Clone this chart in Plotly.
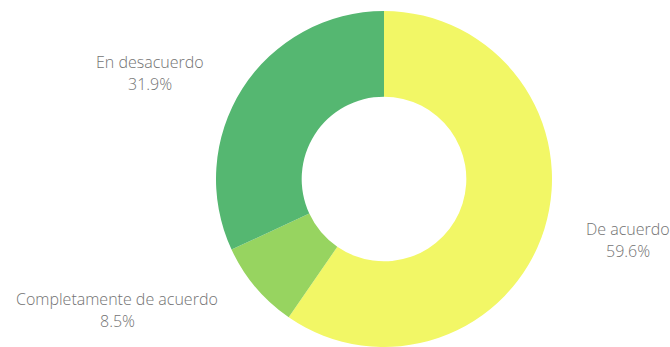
import plotly.graph_objects as go

categories = ["De acuerdo", "Completamente de acuerdo", "En desacuerdo"]
values = [59.6, 8.5, 31.9]
colors = ["#f2f766", "#97d460", "#55b771"]

# label anchor positions in pixels (center x, y of first line) – layout only
label_pos = [(628, 229), (117, 299), (150, 62)]

W, H = 670, 347
cx, cy, r = 384, 179, 168

fig = go.Figure(go.Pie(
    labels=categories,
    values=values,
    marker=dict(colors=colors, line=dict(width=0)),
    hole=0.49,
    sort=False,
    direction="clockwise",
    rotation=0,
    textinfo="none",
    hoverinfo="label+percent",
    domain=dict(x=[(cx - r) / W, (cx + r) / W], y=[(H - cy - r) / H, (H - cy + r) / H]),
    showlegend=False,
))

total = sum(values)
annotations = []
for cat, v, (px, py) in zip(categories, values, label_pos):
    pct = f"{v / total * 100:.1f}%"
    for text, yy in ((cat, py), (pct, py + 22)):
        annotations.append(dict(
            x=px / W, y=1 - yy / H, xref="paper", yref="paper",
            text=text, showarrow=False, xanchor="center", yanchor="middle",
            font=dict(family="Open Sans", size=16, color="#737373", weight=300),
        ))

fig.update_layout(
    width=W, height=H,
    margin=dict(l=0, r=0, t=0, b=0),
    paper_bgcolor="white",
    plot_bgcolor="white",
    annotations=annotations,
)

fig.write_html("out.html")
